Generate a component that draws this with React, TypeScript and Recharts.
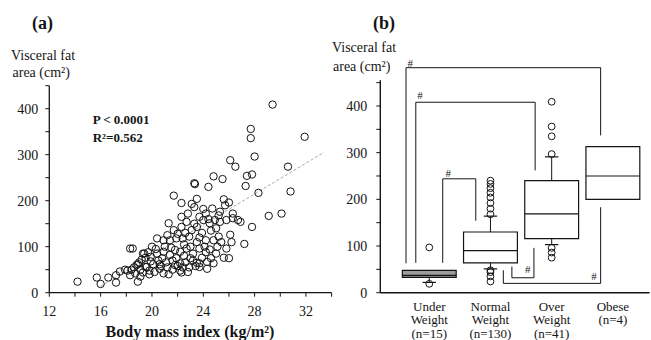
import {
  ScatterChart,
  Scatter,
  XAxis,
  YAxis,
  ReferenceLine,
  ReferenceArea,
  ReferenceDot,
} from "recharts";

// ---- panel (a): BMI vs visceral fat area ----
const BMI_TICKS = [12, 14, 16, 18, 20, 22, 24, 26, 28, 30, 32, 34];
const VFA_TICKS = [0, 50, 100, 150, 200, 250, 300, 350, 400, 450];

// [BMI, VFA]
const SUBJECTS: [number, number][] = [
  [14.2, 24], [15.7, 33], [16.0, 19], [16.6, 33], [17.2, 22], [17.2, 38],
  [17.5, 46], [17.9, 50], [18.1, 48], [18.3, 96], [18.5, 96], [18.3, 38],
  [18.6, 55], [18.7, 42], [18.9, 24], [18.9, 62], [19.1, 50], [19.2, 72],
  [19.3, 85], [19.3, 44], [19.6, 56], [19.5, 76], [19.7, 88], [19.8, 40],
  [19.1, 35], [19.8, 48], [20.2, 45], [20.6, 52], [21.2, 55], [21.6, 50],
  [22.2, 48], [22.3, 44], [22.9, 55], [23.4, 58], [23.7, 56], [24.3, 52],
  [24.8, 64], [18.8, 60], [19.5, 56], [20.1, 62], [20.6, 62], [21.1, 66],
  [21.6, 70], [22.2, 64], [22.6, 66], [23.2, 70], [23.7, 64], [24.3, 67],
  [19.4, 85], [19.9, 78], [20.4, 85], [20.9, 89], [21.4, 82], [21.8, 93],
  [22.2, 89], [22.7, 96], [23.2, 85], [23.7, 96], [24.5, 94], [25.0, 85],
  [25.6, 76], [26.0, 75], [20.0, 100], [20.4, 118], [20.9, 114], [21.4, 114],
  [21.9, 118], [22.4, 118], [22.9, 122], [23.7, 120], [24.2, 114], [24.8, 114],
  [25.2, 122], [25.8, 96], [26.2, 110], [27.2, 106], [21.3, 151], [21.7, 136],
  [22.3, 143], [22.7, 154], [23.1, 136], [23.5, 143], [24.0, 158], [24.5, 151],
  [24.9, 158], [25.3, 154], [25.8, 158], [26.3, 162], [26.7, 158], [27.8, 143],
  [22.3, 165], [22.8, 172], [23.3, 186], [23.7, 165], [24.2, 172], [24.7, 183],
  [25.3, 176], [25.6, 203], [26.0, 196], [26.3, 172], [26.9, 154], [21.7, 211],
  [22.3, 195], [23.1, 193], [23.3, 238], [23.35, 236], [23.5, 204], [24.4, 230],
  [24.8, 253], [25.5, 247], [26.1, 288], [26.5, 274], [27.3, 232], [27.4, 254],
  [27.8, 257], [27.7, 356], [27.7, 336], [28.0, 296], [28.3, 217], [29.1, 167],
  [29.4, 409], [30.1, 172], [30.6, 274], [30.8, 220], [31.9, 339], [20.3, 95],
  [20.8, 75], [21.0, 100], [21.5, 98], [21.9, 75], [22.0, 58], [22.5, 80],
  [22.5, 105], [23.0, 100], [23.0, 75], [23.5, 110], [23.9, 130], [24.1, 100],
  [24.6, 135], [25.0, 140], [25.2, 168], [25.7, 190], [20.5, 70], [21.2, 125],
  [22.0, 128], [22.6, 130], [23.3, 150], [24.0, 182], [24.4, 160], [25.4, 110],
  [26.1, 126], [19.9, 68], [20.7, 58], [21.3, 40], [22.8, 45], [23.9, 76],
  [24.6, 75], [25.1, 100], [18.4, 50], [19.0, 66], [20.9, 42], [21.8, 60],
  [22.4, 55], [23.5, 65], [24.2, 88],
];
const REGRESSION = [
  { bmi: 16, vfa: 14 },
  { bmi: 33.4, vfa: 305 },
];

// ---- panel (b): box plots by weight group ----
const GROUPS = [1, 2, 3, 4];
const GROUP_LABELS = [
  ["Under", "Weight", "(n=15)"],
  ["Normal", "Weight", "(n=130)"],
  ["Over", "Weight", "(n=41)"],
  ["Obese", "(n=4)"],
];
const Q1 = [33, 64, 116, 200];
const MEDIAN = [37, 90, 169, 250];
const Q3 = [48, 130, 240, 313];
const WHISKER_LOW: (number | null)[] = [22, 51, 103, null];
const WHISKER_HIGH: (number | null)[] = [null, 164, 291, null];
const OUTLIERS = [
  { g: 1, vfa: 97 }, { g: 1, vfa: 19 },
  { g: 2, vfa: 168 }, { g: 2, vfa: 180 }, { g: 2, vfa: 192 }, { g: 2, vfa: 204 },
  { g: 2, vfa: 214 }, { g: 2, vfa: 224 }, { g: 2, vfa: 233 }, { g: 2, vfa: 240 },
  { g: 2, vfa: 48 }, { g: 2, vfa: 44 }, { g: 2, vfa: 35 }, { g: 2, vfa: 24 },
  { g: 3, vfa: 297 }, { g: 3, vfa: 335 }, { g: 3, vfa: 356 }, { g: 3, vfa: 409 },
  { g: 3, vfa: 96 }, { g: 3, vfa: 86 }, { g: 3, vfa: 75 },
];
// significance brackets (group position, VFA)
const BRACKETS: [number, number][][] = [
  [[0.62, 63], [0.62, 482], [3.8, 482], [3.8, 337]],
  [[0.78, 64], [0.78, 408], [2.73, 408], [2.73, 262]],
  [[1.22, 64], [1.22, 244], [1.76, 244], [1.76, 154]],
  [[2.35, 56], [2.35, 32], [2.71, 32], [2.71, 96]],
  [[2.21, 48], [2.21, 20], [3.8, 20], [3.8, 183]],
];
const HASHES: [number, number][] = [
  [0.69, 493], [0.85, 424], [1.31, 257], [2.61, 51], [3.69, 36],
];

const INK = "#151515";
const FONT = '"Liberation Serif", "Times New Roman", serif';
const BOX_HALF = 0.44;
const CAP_HALF = 0.11;

const hollow = (r: number) => (p: any) => (
  <circle cx={p.cx} cy={p.cy} r={r} fill="none" stroke={INK} strokeWidth={1} />
);

function GroupTick({ x, y, payload }: any) {
  const lines = GROUP_LABELS[payload.value - 1] ?? [];
  return (
    <text x={x} y={y} textAnchor="middle" fontFamily={FONT} fontSize={13} fill={INK}>
      {lines.map((l, i) => (
        <tspan key={i} x={x} y={y + 18 + i * 13.5}>
          {l}
        </tspan>
      ))}
    </text>
  );
}

const seg = (a: [number, number], b: [number, number]) => [
  { x: a[0], y: a[1] },
  { x: b[0], y: b[1] },
];

export default function App() {
  const subjects = SUBJECTS.map(([bmi, vfa]) => ({ bmi, vfa }));
  const tickStyle = { fill: INK, fontSize: 14, fontFamily: FONT };

  return (
    <div
      style={{
        position: "absolute",
        left: 0,
        top: 0,
        width: 651,
        height: 340,
        overflow: "hidden",
        background: "#fff",
      }}
    >
      <div style={{ position: "absolute", left: 0, top: 0 }}>
        <ScatterChart
          width={340}
          height={340}
          margin={{ top: 85.7, right: 8.4, bottom: 17.3, left: 9.3 }}
        >
          <XAxis
            type="number"
            dataKey="bmi"
            domain={[12, 34]}
            ticks={BMI_TICKS}
            interval={0}
            tickFormatter={(v: number) => (v % 4 === 0 && v < 34 ? String(v) : "")}
            height={30}
            tickSize={4}
            tickMargin={9}
            tick={tickStyle}
            axisLine={{ stroke: INK, strokeWidth: 1.3 }}
            tickLine={{ stroke: INK }}
          />
          <YAxis
            type="number"
            dataKey="vfa"
            domain={[0, 450]}
            ticks={VFA_TICKS}
            interval={0}
            tickFormatter={(v: number) => (v % 100 === 0 ? String(v) : "")}
            width={40}
            tickSize={4}
            tickMargin={7}
            tick={tickStyle}
            axisLine={{ stroke: INK, strokeWidth: 1.3 }}
            tickLine={{ stroke: INK }}
          />
          <ReferenceLine
            segment={[
              { x: REGRESSION[0].bmi, y: REGRESSION[0].vfa },
              { x: REGRESSION[1].bmi, y: REGRESSION[1].vfa },
            ]}
            stroke="#a8a8a8"
            strokeDasharray="3 2"
            strokeWidth={1}
          />
          <Scatter data={subjects} shape={hollow(3.7)} isAnimationActive={false} />
        </ScatterChart>
      </div>

      <div style={{ position: "absolute", left: 330, top: 0 }}>
        <ScatterChart
          width={321}
          height={340}
          margin={{ top: 80.3, right: 1.4, bottom: 17.3, left: 10.3 }}
        >
          <XAxis
            type="number"
            dataKey="g"
            domain={[0.2, 4.6]}
            ticks={GROUPS}
            interval={0}
            height={30}
            tickSize={0}
            tickMargin={0}
            tick={<GroupTick />}
            tickLine={false}
            axisLine={{ stroke: INK, strokeWidth: 1.4 }}
          />
          <YAxis
            type="number"
            dataKey="vfa"
            domain={[0, 455]}
            allowDataOverflow
            ticks={VFA_TICKS}
            interval={0}
            tickFormatter={(v: number) => (v % 100 === 0 ? String(v) : "")}
            width={40}
            tickSize={4}
            tickMargin={9}
            tick={tickStyle}
            axisLine={{ stroke: INK, strokeWidth: 1.4 }}
            tickLine={{ stroke: INK }}
          />
          {GROUPS.map((g, i) => (
            <ReferenceArea
              key={"box" + g}
              x1={g - BOX_HALF}
              x2={g + BOX_HALF}
              y1={Q1[i]}
              y2={Q3[i]}
              fill={i === 0 ? "#9d9d9d" : "#fff"}
              fillOpacity={1}
              stroke={INK}
              strokeWidth={1.2}
              ifOverflow="visible"
            />
          ))}
          {GROUPS.map((g, i) => (
            <ReferenceLine
              key={"med" + g}
              segment={seg([g - BOX_HALF, MEDIAN[i]], [g + BOX_HALF, MEDIAN[i]])}
              stroke={INK}
              strokeWidth={1.2}
              ifOverflow="visible"
            />
          ))}
          {GROUPS.flatMap((g, i) => {
            const out: any[] = [];
            const lo = WHISKER_LOW[i];
            const hi = WHISKER_HIGH[i];
            if (lo != null) {
              out.push(
                <ReferenceLine key={"wl" + g} segment={seg([g, Q1[i]], [g, lo])} stroke={INK} ifOverflow="visible" />,
                <ReferenceLine key={"cl" + g} segment={seg([g - CAP_HALF, lo], [g + CAP_HALF, lo])} stroke={INK} strokeWidth={1.2} ifOverflow="visible" />
              );
            }
            if (hi != null) {
              out.push(
                <ReferenceLine key={"wh" + g} segment={seg([g, Q3[i]], [g, hi])} stroke={INK} ifOverflow="visible" />,
                <ReferenceLine key={"ch" + g} segment={seg([g - CAP_HALF, hi], [g + CAP_HALF, hi])} stroke={INK} strokeWidth={1.2} ifOverflow="visible" />
              );
            }
            return out;
          })}
          {BRACKETS.flatMap((pts, b) =>
            pts.slice(1).map((p, k) => (
              <ReferenceLine
                key={"br" + b + "-" + k}
                segment={seg(pts[k], p)}
                stroke={INK}
                strokeWidth={1}
                ifOverflow="visible"
              />
            ))
          )}
          {HASHES.map(([x, y], i) => (
            <ReferenceDot
              key={"h" + i}
              x={x}
              y={y}
              r={0}
              ifOverflow="visible"
              shape={(p: any) => (
                <text x={p.cx} y={p.cy + 4} textAnchor="middle" fontFamily={FONT} fontSize={11} fill={INK}>
                  #
                </text>
              )}
            />
          ))}
          <Scatter data={OUTLIERS} shape={hollow(3.4)} isAnimationActive={false} />
        </ScatterChart>
      </div>

      <svg
        width={651}
        height={340}
        style={{ position: "absolute", left: 0, top: 0, pointerEvents: "none" }}
        fontFamily={FONT}
        fill={INK}
      >
        <text x={32} y={29} fontSize={18} fontWeight="bold">(a)</text>
        <text x={11} y={59.5} fontSize={14}>Visceral fat</text>
        <text x={12.5} y={77} fontSize={14}>area (cm²)</text>
        <text x={92.7} y={124} fontSize={13} fontWeight="bold">P &lt; 0.0001</text>
        <text x={92.7} y={142} fontSize={13} fontWeight="bold">R²=0.562</text>
        <text x={190} y={337} fontSize={16} fontWeight="bold" textAnchor="middle">
          Body mass index (kg/m²)
        </text>
        <text x={373} y={29} fontSize={18} fontWeight="bold">(b)</text>
        <text x={332} y={52} fontSize={14}>Visceral fat</text>
        <text x={333} y={71} fontSize={14}>area (cm²)</text>
      </svg>
    </div>
  );
}
